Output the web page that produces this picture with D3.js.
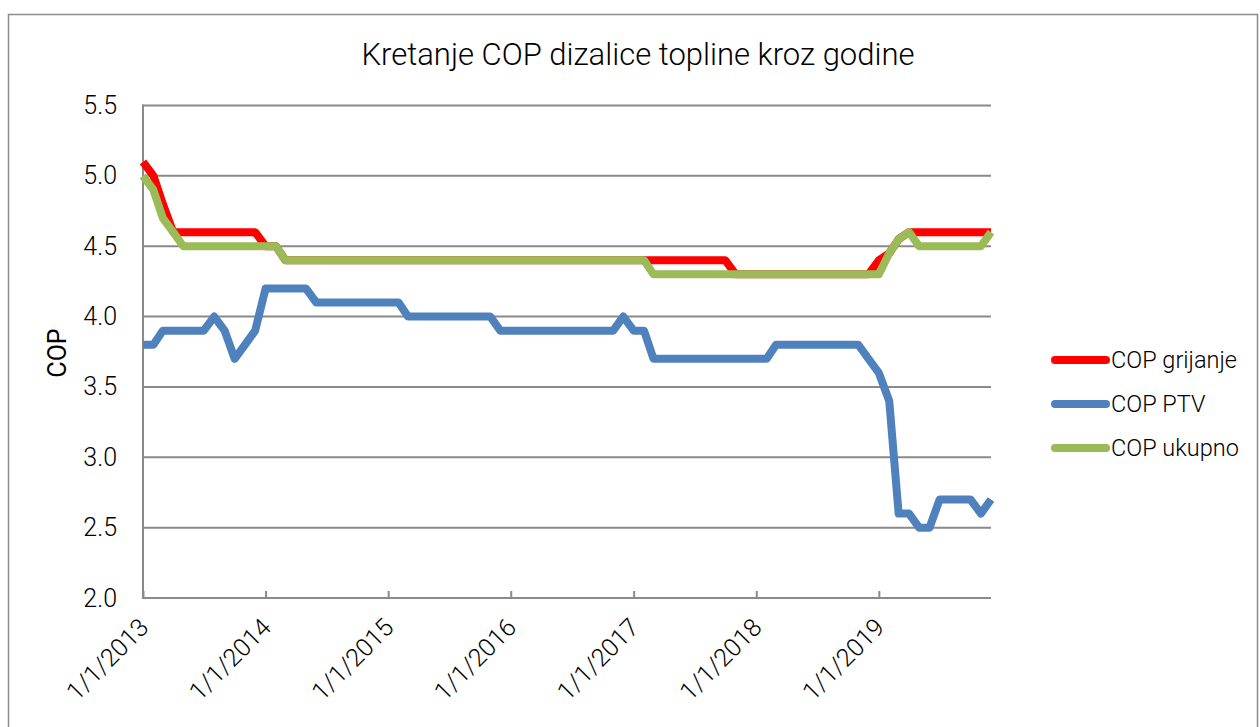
<!DOCTYPE html>
<html>
<head>
<meta charset="utf-8">
<script src="https://cdn.jsdelivr.net/npm/d3@7"></script>
<style>
  html, body { margin: 0; padding: 0; background: #fff; }
  svg { display: block; font-family: Roboto, "Noto Sans", sans-serif; }
</style>
</head>
<body>
<svg id="chart" width="1260" height="727"></svg>
<script>
// Monthly readings, January 2013 – December 2019
const startMonth = new Date(Date.UTC(2013, 0, 1));
const endMonth = new Date(Date.UTC(2019, 11, 1));
const months = d3.utcMonth.range(startMonth, d3.utcMonth.offset(endMonth, 1));

const copGrijanje = [
  5.1, 5.0, 4.8, 4.6, 4.6, 4.6, 4.6, 4.6, 4.6, 4.6, 4.6, 4.6,
  4.5, 4.5, 4.4, 4.4, 4.4, 4.4, 4.4, 4.4, 4.4, 4.4, 4.4, 4.4,
  4.4, 4.4, 4.4, 4.4, 4.4, 4.4, 4.4, 4.4, 4.4, 4.4, 4.4, 4.4,
  4.4, 4.4, 4.4, 4.4, 4.4, 4.4, 4.4, 4.4, 4.4, 4.4, 4.4, 4.4,
  4.4, 4.4, 4.4, 4.4, 4.4, 4.4, 4.4, 4.4, 4.4, 4.4, 4.3, 4.3,
  4.3, 4.3, 4.3, 4.3, 4.3, 4.3, 4.3, 4.3, 4.3, 4.3, 4.3, 4.3,
  4.4, 4.45, 4.55, 4.6, 4.6, 4.6, 4.6, 4.6, 4.6, 4.6, 4.6, 4.6
];

const copPTV = [
  3.8, 3.8, 3.9, 3.9, 3.9, 3.9, 3.9, 4.0, 3.9, 3.7, 3.8, 3.9,
  4.2, 4.2, 4.2, 4.2, 4.2, 4.1, 4.1, 4.1, 4.1, 4.1, 4.1, 4.1,
  4.1, 4.1, 4.0, 4.0, 4.0, 4.0, 4.0, 4.0, 4.0, 4.0, 4.0, 3.9,
  3.9, 3.9, 3.9, 3.9, 3.9, 3.9, 3.9, 3.9, 3.9, 3.9, 3.9, 4.0,
  3.9, 3.9, 3.7, 3.7, 3.7, 3.7, 3.7, 3.7, 3.7, 3.7, 3.7, 3.7,
  3.7, 3.7, 3.8, 3.8, 3.8, 3.8, 3.8, 3.8, 3.8, 3.8, 3.8, 3.7,
  3.6, 3.4, 2.6, 2.6, 2.5, 2.5, 2.7, 2.7, 2.7, 2.7, 2.6, 2.7
];

const copUkupno = [
  5.0, 4.9, 4.7, 4.6, 4.5, 4.5, 4.5, 4.5, 4.5, 4.5, 4.5, 4.5,
  4.5, 4.5, 4.4, 4.4, 4.4, 4.4, 4.4, 4.4, 4.4, 4.4, 4.4, 4.4,
  4.4, 4.4, 4.4, 4.4, 4.4, 4.4, 4.4, 4.4, 4.4, 4.4, 4.4, 4.4,
  4.4, 4.4, 4.4, 4.4, 4.4, 4.4, 4.4, 4.4, 4.4, 4.4, 4.4, 4.4,
  4.4, 4.4, 4.3, 4.3, 4.3, 4.3, 4.3, 4.3, 4.3, 4.3, 4.3, 4.3,
  4.3, 4.3, 4.3, 4.3, 4.3, 4.3, 4.3, 4.3, 4.3, 4.3, 4.3, 4.3,
  4.3, 4.45, 4.55, 4.6, 4.5, 4.5, 4.5, 4.5, 4.5, 4.5, 4.5, 4.6
];

const seriesNames = ["COP grijanje", "COP PTV", "COP ukupno"];
const seriesColors = ["#FF0000", "#4F81BD", "#9BBB59"];
const yTicks = [2.0, 2.5, 3.0, 3.5, 4.0, 4.5, 5.0, 5.5];
const xTickYears = [2013, 2014, 2015, 2016, 2017, 2018, 2019];

const titleText = "Kretanje COP dizalice topline kroz godine";
const yAxisTitle = "COP";

const svg = d3.select("#chart");
const gridColor = "#8a8a8a";

// outer chart frame
svg.append("rect")
  .attr("x", 8.5).attr("y", 14.5)
  .attr("width", 1249).attr("height", 730)
  .attr("fill", "none")
  .attr("stroke", "#8c8c8c")
  .attr("stroke-width", 1.5);

const plot = { left: 143, right: 991, top: 105.5, bottom: 598 };

const x = d3.scaleUtc().domain([startMonth, endMonth]).range([plot.left, plot.right]);
const y = d3.scaleLinear().domain([2.0, 5.5]).range([plot.bottom, plot.top]);

// horizontal gridlines
svg.append("g")
  .selectAll("line")
  .data(yTicks)
  .join("line")
  .attr("x1", plot.left).attr("x2", plot.right)
  .attr("y1", d => y(d)).attr("y2", d => y(d))
  .attr("stroke", gridColor)
  .attr("stroke-width", 2);

// vertical axis line
svg.append("line")
  .attr("x1", plot.left).attr("x2", plot.left)
  .attr("y1", plot.top - 1).attr("y2", plot.bottom + 1)
  .attr("stroke", gridColor)
  .attr("stroke-width", 2);

// y tick labels
const yAxis = d3.axisLeft(y).tickValues(yTicks).tickFormat(d3.format(".1f")).tickSize(0).tickPadding(26);
const yG = svg.append("g").attr("transform", `translate(${plot.left},0)`).call(yAxis);
yG.select(".domain").remove();
yG.selectAll("text")
  .attr("font-family", "Roboto, sans-serif")
  .attr("font-weight", 300)
  .attr("font-size", 25)
  .attr("fill", "#000");

// x axis with inward year ticks and rotated date labels
const xTickDates = xTickYears.map(yr => new Date(Date.UTC(yr, 0, 1)));
const xFmt = d3.utcFormat("%-m/%-d/%Y");
const xAxis = d3.axisTop(x).tickValues(xTickDates).tickFormat("").tickSize(7);
const xG = svg.append("g").attr("transform", `translate(0,${plot.bottom})`).call(xAxis);
xG.select(".domain").remove();
xG.selectAll("line").attr("stroke", gridColor).attr("stroke-width", 2);

svg.append("g")
  .selectAll("text")
  .data(xTickDates)
  .join("text")
  .attr("transform", d => `translate(${x(d) + 7},${plot.bottom + 31}) rotate(-45)`)
  .attr("text-anchor", "end")
  .attr("font-family", "Roboto, sans-serif")
  .attr("font-weight", 300)
  .attr("font-size", 25)
  .attr("fill", "#000")
  .text(d => xFmt(d));

// series lines
const line = d3.line()
  .x((d, i) => x(months[i]))
  .y(d => y(d))
  .curve(d3.curveLinear);

const seriesData = [copGrijanje, copPTV, copUkupno];
svg.append("g")
  .selectAll("path")
  .data(seriesData)
  .join("path")
  .attr("d", d => line(d))
  .attr("fill", "none")
  .attr("stroke", (d, i) => seriesColors[i])
  .attr("stroke-width", 8)
  .attr("stroke-linejoin", "round")
  .attr("stroke-linecap", "butt");

// title
svg.append("text")
  .attr("x", 638).attr("y", 65)
  .attr("text-anchor", "middle")
  .attr("font-family", "Roboto, sans-serif")
  .attr("font-weight", 300)
  .attr("font-size", 31)
  .attr("fill", "#000")
  .text(titleText);

// y axis title
svg.append("text")
  .attr("transform", `translate(66,353) rotate(-90)`)
  .attr("text-anchor", "middle")
  .attr("font-family", "Roboto, sans-serif")
  .attr("font-weight", 400)
  .attr("font-size", 25)
  .attr("fill", "#000")
  .text(yAxisTitle);

// legend
const legend = svg.append("g");
const legendY = [360, 404, 448];
seriesNames.forEach((name, i) => {
  legend.append("line")
    .attr("x1", 1055).attr("x2", 1106)
    .attr("y1", legendY[i]).attr("y2", legendY[i])
    .attr("stroke", seriesColors[i])
    .attr("stroke-width", 8)
    .attr("stroke-linecap", "round");
  legend.append("text")
    .attr("x", 1111).attr("y", legendY[i])
    .attr("dy", "0.36em")
    .attr("font-family", "Roboto, sans-serif")
    .attr("font-weight", 300)
    .attr("font-size", 23.5)
    .attr("fill", "#000")
    .text(name);
});
</script>
</body>
</html>
